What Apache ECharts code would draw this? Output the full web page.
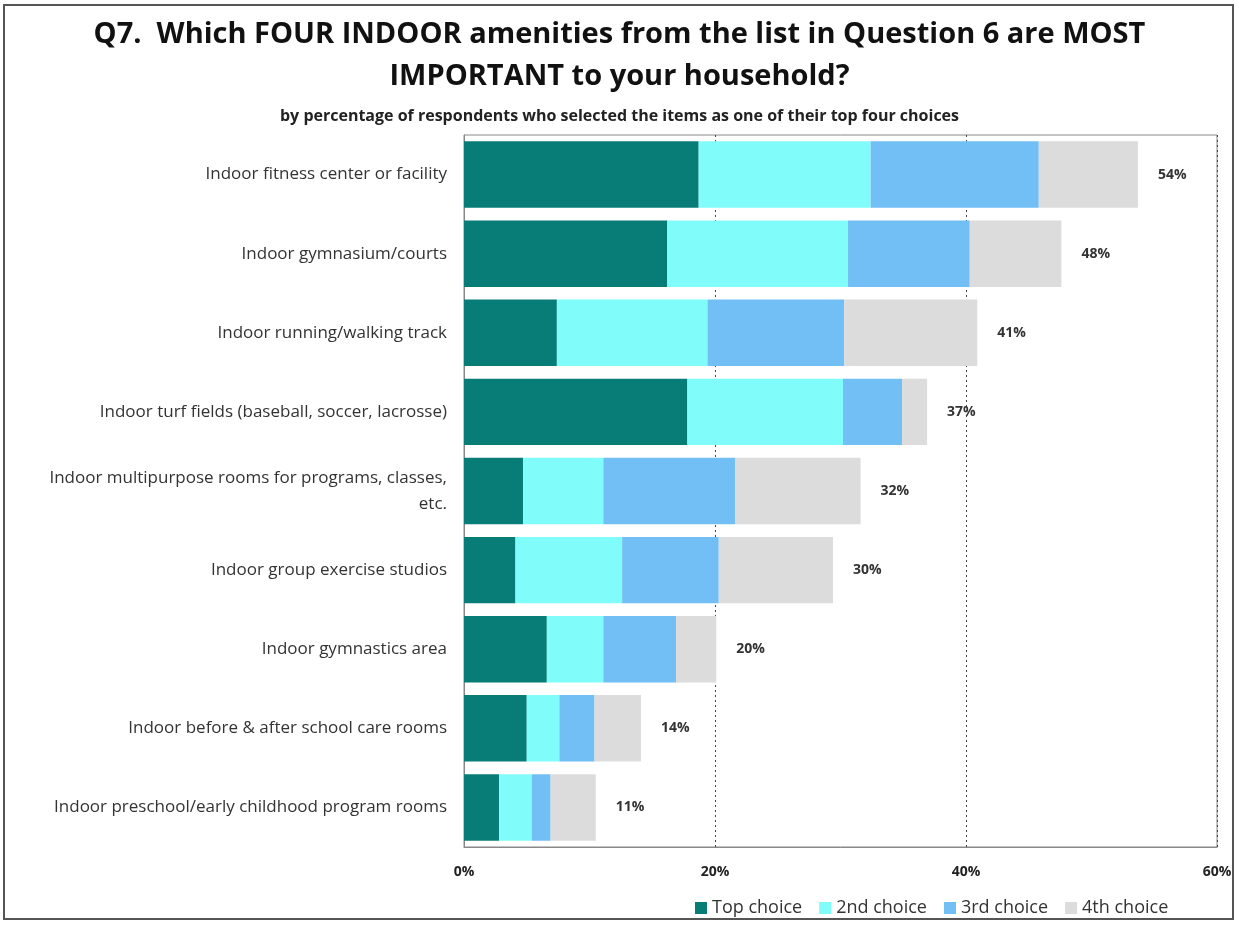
<!DOCTYPE html>
<html><head><meta charset="utf-8">
<script src="https://cdn.jsdelivr.net/npm/echarts@6/dist/echarts.min.js"></script>
<style>html,body{margin:0;padding:0;background:#fff}#c{width:1239px;height:925px}</style>
</head><body><div id="c"></div>
<script>
const categories = [
  "Indoor fitness center or facility",
  "Indoor gymnasium/courts",
  "Indoor running/walking track",
  "Indoor turf fields (baseball, soccer, lacrosse)",
  "Indoor multipurpose rooms for programs, classes,\netc.",
  "Indoor group exercise studios",
  "Indoor gymnastics area",
  "Indoor before & after school care rooms",
  "Indoor preschool/early childhood program rooms"
];
const topChoice    = [18.7, 16.2, 7.4, 17.8, 4.7, 4.1, 6.6, 5.0, 2.8];
const secondChoice = [13.7, 14.4, 12.0, 12.4, 6.4, 8.5, 4.5, 2.6, 2.6];
const thirdChoice  = [13.4, 9.7, 10.9, 4.7, 10.5, 7.7, 5.8, 2.8, 1.5];
const fourthChoice = [7.9, 7.3, 10.6, 2.0, 10.0, 9.1, 3.2, 3.7, 3.6];
const totalLabels  = ["54%", "48%", "41%", "37%", "32%", "30%", "20%", "14%", "11%"];
const seriesNames  = ["Top choice", "2nd choice", "3rd choice", "4th choice"];
const xTicks = [0, 20, 40, 60];

const colors = ["#087d78", "#80fdfb", "#72bff5", "#dcdcdc"];
const font = "'Open Sans', 'Noto Sans', sans-serif";
const chart = echarts.init(document.getElementById('c'));
const mk = (name, data, i) => ({
  name, type: 'bar', stack: 'all', data, barCategoryGap: '16%',
  itemStyle: { color: colors[i] },
  label: i === 3 ? {
    show: true, position: 'right', distance: 20,
    formatter: p => totalLabels[p.dataIndex],
    fontFamily: font, fontWeight: 'bold', fontSize: 14, color: '#333'
  } : { show: false }
});
chart.setOption({
  animation: false,
  title: [
    { text: "Q7.  Which FOUR INDOOR amenities from the list in Question 6 are MOST\nIMPORTANT to your household?",
      left: 'center', top: 9,
      textStyle: { fontFamily: font, fontWeight: 'bold', fontSize: 29, lineHeight: 42, color: '#111' } },
    { text: "by percentage of respondents who selected the items as one of their top four choices",
      left: 'center', top: 103,
      textStyle: { fontFamily: font, fontWeight: 'bold', fontSize: 16, color: '#222' } }
  ],
  graphic: [{ type: 'rect', shape: { x: 4, y: 5, width: 1229, height: 914 },
    style: { fill: 'none', stroke: '#555', lineWidth: 2 }, silent: true }],
  legend: {
    data: seriesNames, left: 690, top: 894, itemWidth: 12, itemHeight: 12, itemGap: 17,
    icon: 'rect',
    textStyle: { fontFamily: font, fontSize: 18, color: '#333' }
  },
  grid: { left: 464, right: 22, top: 135, bottom: 78, show: true, borderColor: '#888', borderWidth: 1 },
  xAxis: {
    type: 'value', min: 0, max: 60, interval: 20,
    axisLabel: { formatter: v => xTicks.includes(v) ? v + '%' : '', fontFamily: font, fontWeight: 'bold', fontSize: 14, color: '#222', margin: 18 },
    splitLine: { show: true, lineStyle: { type: [2, 3], color: '#444' } },
    axisLine: { show: true, lineStyle: { color: '#888' } }, axisTick: { show: false }
  },
  yAxis: {
    type: 'category', data: categories, inverse: true,
    axisLabel: { fontFamily: font, fontSize: 17, color: '#333', margin: 17, align: 'right', lineHeight: 26 },
    axisTick: { show: false }, axisLine: { show: true, lineStyle: { color: '#888' } }
  },
  series: [mk(seriesNames[0], topChoice, 0), mk(seriesNames[1], secondChoice, 1), mk(seriesNames[2], thirdChoice, 2), mk(seriesNames[3], fourthChoice, 3)]
});
</script></body></html>
